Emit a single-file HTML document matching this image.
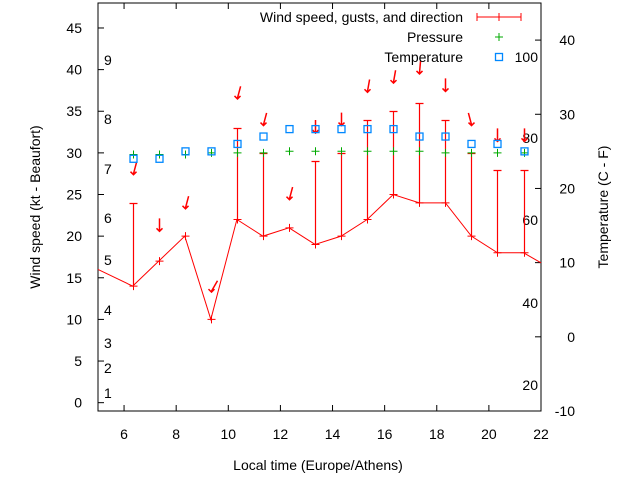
<!DOCTYPE html>
<html><head><meta charset="utf-8"><style>
body{margin:0;background:#fff}
svg text{font-family:"Liberation Sans",sans-serif;font-size:14px;fill:#000}
</style></head><body>
<svg id="c" width="640" height="480" xmlns="http://www.w3.org/2000/svg"></svg>
<script>
const times=[6.33,7.33,8.33,9.33,10.33,11.33,12.33,13.33,14.33,15.33,16.33,17.33,18.33,19.33,20.33,21.33];
const speeds=[14,17,20,10,22,20,21,19,20,22,25,24,24,20,18,18];
const gusts=[24,null,null,null,33,30,null,29,30,34,35,36,34,30,28,28];
const pressure=[29.8,29.8,29.8,30,30,30,30.2,30.2,30.2,30.2,30.2,30.2,30,30,30,30];
const temps=[24,24,25,25,26,27,28,28,28,28,28,27,27,26,26,25];
const arrowY=[27.5,20.7,23.4,13.4,36.6,33.4,24.5,32.5,33.4,37.4,38.5,39.6,37.5,33.4,31.5,31.5];
const arrowDir=[15,0,15,30,15,15,15,0,0,10,10,5,0,-15,0,0];
const xTicks=[6,8,10,12,14,16,18,20,22];
const yTicks=[0,5,10,15,20,25,30,35,40,45];
const y2Ticks=[-10,0,10,20,30,40];
const beaufort=[[1,393],[2,368],[3,343],[4,310],[5,260],[6,218],[7,169],[8,119],[9,60]];
const fahr=[["20",385],["40",303],["60",220],["80",138],["100",57]];
const L=98,R=541,T=3,B=411;
const X=v=>L+(v-5)/(22-5)*(R-L);
const Y=v=>B-(v+1)/49*(B-T);
const Y2=v=>B-(v+10)/55*(B-T);
const s=document.getElementById('c');
const NS='http://www.w3.org/2000/svg';
function el(t,a,txt){const e=document.createElementNS(NS,t);for(const k in a)e.setAttribute(k,a[k]);if(txt!=null)e.textContent=txt;s.appendChild(e);return e;}
let e;
e=el('rect',{x:L,y:T,width:R-L,height:B-T,fill:'none',stroke:'#000'});


xTicks.forEach(v=>{el('line',{x1:X(v),x2:X(v),y1:B,y2:B-6,stroke:'#000'});el('line',{x1:X(v),x2:X(v),y1:T,y2:T+6,stroke:'#000'});
e=el('text',{x:X(v),y:B+28,'text-anchor':'middle'},v);

});
yTicks.forEach(v=>{el('line',{x1:L,x2:L+6,y1:Y(v),y2:Y(v),stroke:'#000'});
e=el('text',{x:L-16,y:Y(v)+5,'text-anchor':'end'},v);

});
y2Ticks.forEach(v=>{el('line',{x1:R,x2:R-6,y1:Y2(v),y2:Y2(v),stroke:'#000'});
e=el('text',{x:R+34,y:Y2(v)+5,'text-anchor':'end'},v);

});
beaufort.forEach(b=>{e=el('text',{x:104,y:b[1]+5},b[0]);

});
fahr.forEach(f=>{e=el('text',{x:538,y:f[1]+5,'text-anchor':'end'},f[0]);

});
e=el('text',{x:318,y:470,'text-anchor':'middle'},'Local time (Europe/Athens)');


e=el('text',{x:40,y:207,'text-anchor':'middle',transform:'rotate(-90 40 207)'},'Wind speed (kt - Beaufort)');


e=el('text',{x:608,y:207,'text-anchor':'middle',transform:'rotate(-90 608 207)'},'Temperature (C - F)');


let pts=times.map((t,i)=>[X(t),Y(speeds[i])]);
pts=[[X(5),Y(16)]].concat(pts,[[X(22),Y(16.8)]]);
e=el('polyline',{points:pts.map(p=>p.join(',')).join(' '),fill:'none',stroke:'#f00'});


times.forEach((t,i)=>{const x=Math.round(X(t))+0.5,y=Y(speeds[i]);
e=el('path',{d:`M${x-4},${y}H${x+4}M${x},${y-4}V${y+4}`,stroke:'#f00',fill:'none'});


if(gusts[i]!=null){const g=Math.round(Y(gusts[i]))+0.5;
e=el('path',{d:`M${x},${y}V${g}M${x-4},${g}H${x+4}`,stroke:'#ff0000',fill:'none','stroke-width':1.2});

}
const ay=Y(arrowY[i]),a=arrowDir[i]*Math.PI/180,dx=Math.sin(a)*12,dy=Math.cos(a)*12;
e=el('path',{d:`M${x+dx},${ay-dy}L${x},${ay}M${x-3},${ay-2}L${x},${ay+1}L${x+3},${ay-2}`,stroke:'#f00','stroke-width':1.5,fill:'none'});


const py=Y(pressure[i]);
e=el('path',{d:`M${x-4},${py}H${x+4}M${x},${py-4}V${py+4}`,stroke:'#0a0',fill:'none'});


const ty=Y2(temps[i]);
e=el('rect',{x:x-3.5,y:ty-3.5,width:7,height:7,fill:'none',stroke:'#08f','stroke-width':1.3});

});
e=el('text',{x:463,y:22,'text-anchor':'end'},'Wind speed, gusts, and direction');


el('path',{d:'M477,17H521M477,13V21M521,13V21M499,13V21',stroke:'#f00',fill:'none'});
e=el('text',{x:463,y:42,'text-anchor':'end'},'Pressure');


el('path',{d:'M495,37H503M499,33V41',stroke:'#0a0',fill:'none'});
e=el('text',{x:463,y:62,'text-anchor':'end'},'Temperature');


el('rect',{x:495.5,y:53.5,width:7,height:7,fill:'none',stroke:'#08f','stroke-width':1.3});
</script>
</body></html>
